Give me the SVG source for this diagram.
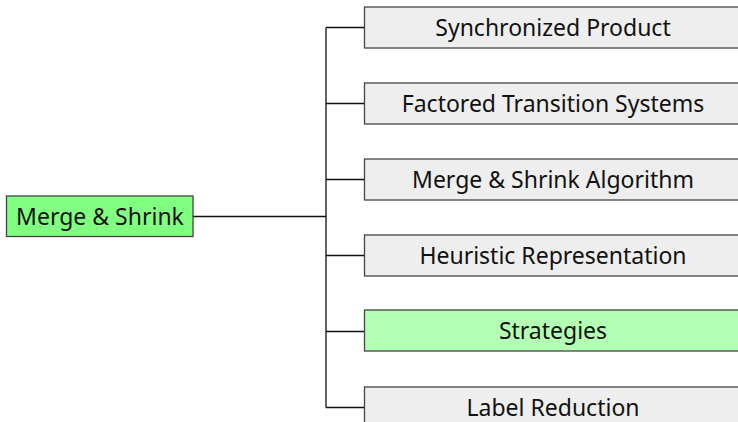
<svg xmlns="http://www.w3.org/2000/svg" width="738" height="422" viewBox="0 0 738 422">
<style>
text{font-family:"Noto Sans","Open Sans",sans-serif;font-size:23px;fill:#111;text-anchor:middle;dominant-baseline:central}
.c{fill:#eeeeee;stroke:#444;stroke-width:1.3}
.g{fill:#b3ffb3;stroke:#444;stroke-width:1.3}
.r{fill:#80ff80;stroke:#444;stroke-width:1.3}
.l{fill:none;stroke:#111;stroke-width:1.3}
</style>
<rect width="738" height="422" fill="#fff"/>
<g id="connectors">
<path class="l" d="M193 216.5H326M326 27.5V407.5M326 27.5H364M326 103.5H364M326 179.5H364M326 255.5H364M326 331.5H364M326 407.5H364"/>
</g>
<g id="root"><rect class="r" x="6.5" y="196" width="186.5" height="40.5"/><text x="100" y="215.5">Merge &amp; Shrink</text></g>
<g id="n1"><rect class="c" x="364.5" y="7" width="380" height="41"/><text x="553" y="26.5">Synchronized Product</text></g>
<g id="n2"><rect class="c" x="364.5" y="83" width="380" height="41"/><text x="553" y="102.5">Factored Transition Systems</text></g>
<g id="n3"><rect class="c" x="364.5" y="159" width="380" height="41"/><text x="553" y="178.5">Merge &amp; Shrink Algorithm</text></g>
<g id="n4"><rect class="c" x="364.5" y="235" width="380" height="41"/><text x="553" y="254.5">Heuristic Representation</text></g>
<g id="n5"><rect class="g" x="364.5" y="310" width="380" height="41"/><text x="553" y="329.5">Strategies</text></g>
<g id="n6"><rect class="c" x="364.5" y="387" width="380" height="41"/><text x="553" y="406.5">Label Reduction</text></g>
</svg>
